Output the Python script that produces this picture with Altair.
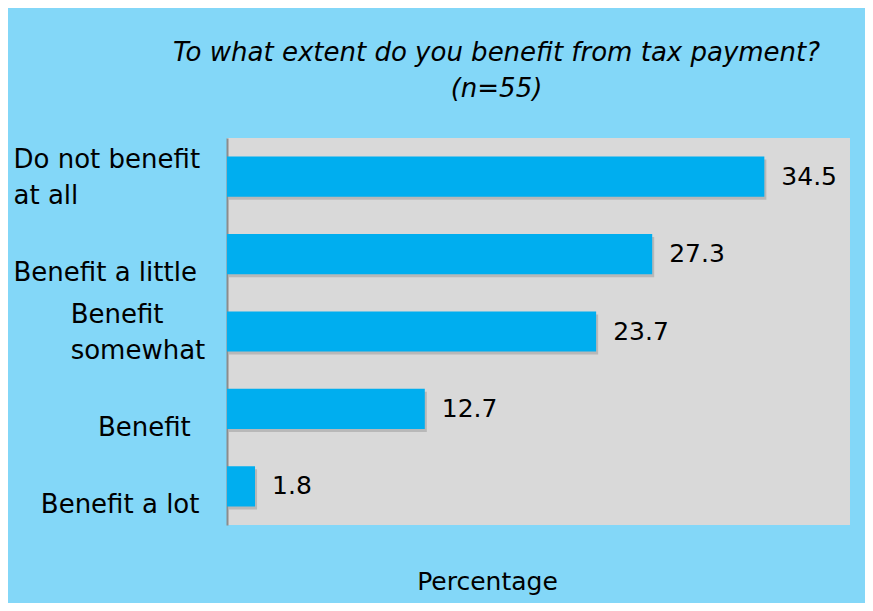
import altair as alt
import pandas as pd

BL = "\u2800"  # blank (non-whitespace) filler used to indent label lines

categories = ["Do not benefit at all", "Benefit a little", "Benefit somewhat", "Benefit", "Benefit a lot"]
values = [34.5, 27.3, 23.7, 12.7, 1.8]
label_lines = [
    ["Do not benefit", "at all"],
    ["", "Benefit a little"],
    [BL * 3 + "Benefit", BL * 3 + "somewhat"],
    ["", BL * 4 + " Benefit"],
    ["", BL + " Benefit a lot"],
]
title_lines = ["To what extent do you benefit from tax payment?", "(n=55)"]
x_title = "Percentage"

df = pd.DataFrame({"cat": categories, "val": values})

expr_parts = []
for c, lines in zip(categories, label_lines):
    arr = "[" + ",".join("'" + l + "'" for l in lines) + "]"
    expr_parts.append(f"datum.value == '{c}' ? {arr}")
label_expr = " : ".join(expr_parts) + " : datum.value"

FONT = "DejaVu Sans"

y_enc = alt.Y(
    "cat:N",
    sort=categories,
    scale=alt.Scale(paddingInner=0.48, paddingOuter=0.24),
    axis=alt.Axis(
        title=None,
        labelExpr=label_expr,
        labelFont=FONT,
        labelFontSize=26,
        labelColor="#000000",
        labelLineHeight=36,
        labelPadding=214,
        labelAlign="left",
        labelBaseline="middle",
        labelOffset=-17,
        labelLimit=400,
        ticks=False,
        grid=False,
        domain=True,
        domainColor="#8c8c8c",
        domainWidth=2,
    ),
)

x_enc = alt.X(
    "val:Q",
    scale=alt.Scale(domain=[0, 40], nice=False),
    axis=alt.Axis(
        title=x_title,
        labels=False,
        ticks=False,
        grid=False,
        domain=False,
        titleFont=FONT,
        titleFontSize=25,
        titleFontWeight="normal",
        titleColor="#000000",
        titleX=260,
        titleY=64,
        titleAlign="center",
        titleBaseline="alphabetic",
    ),
)

base = alt.Chart(df)

shadow = base.mark_bar(
    color="#7a7a7a", opacity=0.35, xOffset=2, x2Offset=2, yOffset=3, y2Offset=3
).encode(x=x_enc, y=y_enc)

bars = base.mark_bar(color="#00AEEF").encode(x=x_enc, y=y_enc)

texts = base.mark_text(
    align="left", baseline="middle", dx=17, font=FONT, fontSize=25, color="#000000"
).encode(x=x_enc, y=y_enc, text=alt.Text("val:Q", format=".1f"))

chart = (
    alt.layer(shadow, bars, texts)
    .properties(
        width=623,
        height=387,
        title=alt.TitleParams(
            text=title_lines,
            font=FONT,
            fontSize=26,
            fontStyle="italic",
            fontWeight="normal",
            color="#000000",
            anchor="middle",
            dx=-42,
            offset=36,
            lineHeight=36,
        ),
        autosize=alt.AutoSizeParams(type="none"),
        padding={"left": 219, "top": 130, "right": 15, "bottom": 78},
    )
    .configure(background="#83D7F8")
    .configure_view(fill="#D9D9D9", stroke=None)
)

chart.save("out.html", embed_options={"renderer": "svg", "actions": False})
